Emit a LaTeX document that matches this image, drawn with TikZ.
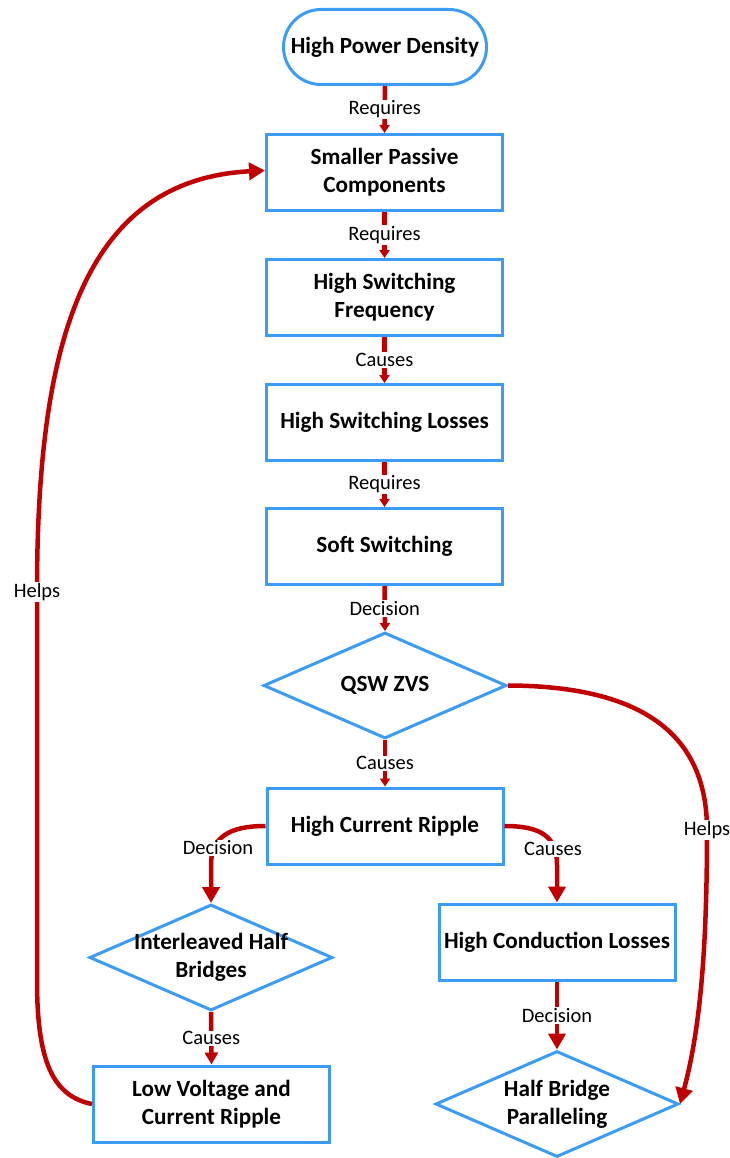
\documentclass[tikz,border=0pt]{standalone}
\usepackage{fontspec}
\setmainfont{Carlito}
\usetikzlibrary{arrows.meta,shapes.geometric,shapes.misc}
\definecolor{boxblue}{RGB}{59,155,245}
\definecolor{arrred}{RGB}{192,0,0}
\begin{document}
\begin{tikzpicture}[x=1pt,y=-1pt,
  nodefont/.style={font=\fontsize{23.2}{28}\selectfont\bfseries},
  box/.style={draw=boxblue, line width=3pt, fill=white, minimum width=236pt, minimum height=76pt, align=center, inner sep=0pt, nodefont},
  dia/.style={draw=boxblue, line width=3pt, fill=white, diamond, minimum width=243pt, minimum height=106pt, inner sep=0pt,
    label={[nodefont, align=center, inner sep=0pt]center:#1}},
  term/.style={draw=boxblue, line width=3pt, fill=white, rounded rectangle, minimum width=203pt, minimum height=75pt, align=center, inner sep=0pt, nodefont},
  conn/.style={draw=arrred, line width=4.5pt, -{Triangle[width=10pt,length=8pt]}},
  connm/.style={draw=arrred, line width=4.5pt, -{Triangle[width=13pt,length=12pt]}},
  connl/.style={draw=arrred, line width=4.5pt, -{Triangle[width=17pt,length=16pt]}},
  lbl/.style={fill=white, font=\fontsize{20.5}{22}\selectfont, inner sep=1pt}
]
\useasboundingbox (0,0) rectangle (729,1158);

\node[term] (hpd) at (385,47) {High Power Density};
\node[box] (spc) at (384.5,172.5) {Smaller Passive\\Components};
\node[box] (hsf) at (384.5,297.5) {High Switching\\Frequency};
\node[box] (hsl) at (384.5,422.5) {High Switching Losses};
\node[box] (ss) at (384.5,546.5) {Soft Switching};
\node[dia={QSW ZVS}] (qsw) at (385,685.5) {};
\node[box] (hcr) at (385,826) {High Current Ripple};
\node[dia={Interleaved Half\\Bridges}] (ihb) at (211,957.5) {};
\node[box] (hcl) at (557,942) {High Conduction Losses};
\node[box] (lvc) at (211.5,1104) {Low Voltage and\\Current Ripple};
\node[dia={Half Bridge\\Paralleling}] (hbp) at (557,1104) {};

\draw[conn] (hpd.south) -- node[lbl]{Requires} (spc.north);
\draw[conn] (spc.south) -- node[lbl]{Requires} (hsf.north);
\draw[conn] (hsf.south) -- node[lbl]{Causes} (hsl.north);
\draw[conn] (hsl.south) -- node[lbl]{Requires} (ss.north);
\draw[conn] (ss.south) -- node[lbl]{Decision} (qsw.north);
\draw[conn] (qsw.south) -- node[lbl]{Causes} (hcr.north);
\draw[connm] (ihb.south) -- node[lbl]{Causes} (lvc.north);
\draw[connl] (hcl.south) -- node[lbl]{Decision} (hbp.north);

\draw[connl] (hcr.west) .. controls (228,826) and (211,838) .. (211,865) -- (ihb.north);
\node[lbl] (ldec) at (218,848) {Decision};
\draw[connl] (hcr.east) .. controls (543,826) and (557,838) .. (557,865) -- (hcl.north);
\node[lbl] (lcau) at (553,849) {Causes};

\draw[connl] (qsw.east) .. controls (650,686) and (707,740) .. (707,830)
  .. controls (707,950) and (700,1030) .. (hbp.east);
\node[lbl] (lhr) at (707,830) {Helps};

\draw[connl] (lvc.west) .. controls (52,1096) and (37,1060) .. (37,980) -- (37,592)
  .. controls (37,350) and (80,180) .. ([yshift=2pt]spc.west);
\node[lbl] (lhl) at (37,592) {Helps};
\end{tikzpicture}
\end{document}
